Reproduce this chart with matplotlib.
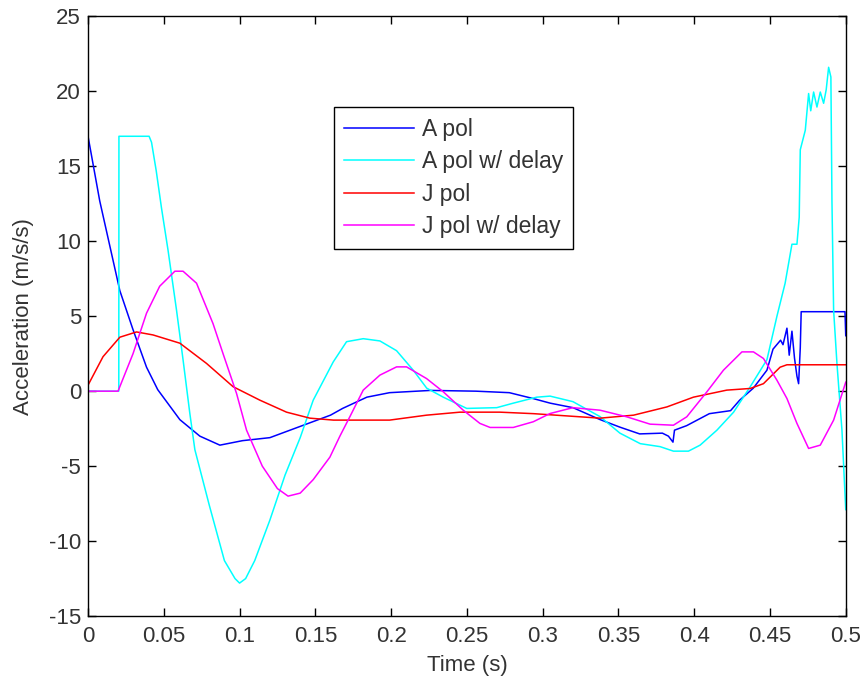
import matplotlib
matplotlib.use('Agg')
import matplotlib.pyplot as plt

# A pol
t_apol = [0, 0.0077, 0.021, 0.0297, 0.0386, 0.046, 0.0606, 0.0738, 0.087, 0.102, 0.12, 0.144, 0.16, 0.168,
          0.184, 0.199, 0.226, 0.256, 0.278, 0.294, 0.305, 0.32, 0.338, 0.351, 0.364, 0.379, 0.383, 0.386,
          0.387, 0.395, 0.41, 0.424, 0.43, 0.439, 0.448, 0.452, 0.457, 0.4586, 0.4612, 0.4627, 0.4645,
          0.4662, 0.4678, 0.4689, 0.47, 0.4706, 0.4995, 0.5]
v_apol = [17.0, 12.7, 6.7, 4.1, 1.6, 0.1, -1.9, -3.0, -3.6, -3.3, -3.1, -2.2, -1.6, -1.15,
          -0.4, -0.1, 0.05, 0.0, -0.1, -0.5, -0.8, -1.1, -1.9, -2.4, -2.85, -2.8, -3.0, -3.4,
          -2.6, -2.3, -1.5, -1.3, -0.6, 0.2, 1.4, 2.8, 3.4, 3.1, 4.2, 2.4, 4.0,
          2.2, 1.0, 0.5, 2.9, 5.3, 5.3, 3.7]

# A pol w/ delay
t_apol_d = [0, 0.0203, 0.0204, 0.0403, 0.0419, 0.045, 0.0485, 0.0528, 0.0584, 0.0627, 0.0672, 0.0705,
            0.08, 0.09, 0.097, 0.1, 0.104, 0.11, 0.12, 0.13, 0.14, 0.1486, 0.1618, 0.1706, 0.1816,
            0.1926, 0.2036, 0.2146, 0.2235, 0.2344, 0.2499, 0.2697, 0.2806, 0.2961, 0.3049, 0.32,
            0.3379, 0.351, 0.3644, 0.3775, 0.3863, 0.3962, 0.4039, 0.415, 0.426, 0.437, 0.448,
            0.4546, 0.46, 0.4645, 0.4678, 0.4693, 0.47, 0.4733, 0.4755, 0.4769, 0.4788, 0.481,
            0.4832, 0.4854, 0.4871, 0.4887, 0.4902, 0.4909, 0.492, 0.4942, 0.4975, 0.5]
v_apol_d = [0, 0, 17.0, 17.0, 16.6, 14.7, 12.2, 9.4, 5.4, 2.1, -1.5, -3.9,
            -7.6, -11.3, -12.5, -12.8, -12.5, -11.3, -8.6, -5.6, -3.1, -0.6, 1.95, 3.3, 3.5,
            3.35, 2.7, 1.4, 0.2, -0.4, -1.15, -1.1, -0.8, -0.4, -0.33, -0.7,
            -1.7, -2.8, -3.5, -3.7, -4.0, -4.0, -3.6, -2.6, -1.4, 0.3, 2.1,
            5.0, 7.2, 9.8, 9.8, 11.6, 16.1, 17.4, 19.85, 18.7, 19.95, 18.95,
            19.95, 19.2, 20.1, 21.6, 20.95, 12.7, 5.4, 1.85, -2.6, -7.9]

# J pol
t_jpol = [0, 0.0099, 0.021, 0.032, 0.0429, 0.0606, 0.0782, 0.0957, 0.1134, 0.131, 0.1464, 0.162, 0.199,
          0.2234, 0.2454, 0.2718, 0.294, 0.3379, 0.36, 0.382, 0.3995, 0.4215, 0.437, 0.4457, 0.4567,
          0.4612, 0.5]
v_jpol = [0.4, 2.3, 3.6, 3.95, 3.75, 3.2, 1.85, 0.3, -0.6, -1.4, -1.8, -1.93, -1.93,
          -1.6, -1.4, -1.4, -1.5, -1.8, -1.6, -1.05, -0.4, 0.07, 0.18, 0.5, 1.6,
          1.76, 1.76]

# J pol w/ delay
t_jpol_d = [0, 0.0198, 0.0297, 0.0386, 0.0473, 0.0573, 0.0627, 0.0716, 0.0825, 0.0891, 0.098, 0.1046,
            0.115, 0.125, 0.132, 0.14, 0.1486, 0.1596, 0.1662, 0.1728, 0.1816, 0.1926, 0.2036, 0.2102,
            0.2234, 0.2344, 0.2476, 0.2586, 0.2653, 0.2806, 0.2938, 0.3049, 0.32, 0.3379, 0.3555,
            0.3709, 0.3863, 0.3951, 0.4084, 0.4193, 0.4315, 0.4391, 0.4457, 0.4546, 0.4612, 0.4678,
            0.4755, 0.4832, 0.492, 0.5]
v_jpol_d = [0, 0, 2.5, 5.2, 7.0, 8.0, 8.0, 7.2, 4.5, 2.5, -0.15, -2.6,
            -5.0, -6.5, -7.0, -6.8, -5.9, -4.4, -3.0, -1.7, 0.07, 1.07, 1.62, 1.62,
            0.84, -0.04, -1.27, -2.15, -2.42, -2.42, -2.04, -1.49, -1.1, -1.27, -1.71,
            -2.2, -2.27, -1.71, -0.04, 1.4, 2.62, 2.62, 2.18, 0.73, -0.49, -2.15,
            -3.82, -3.6, -1.93, 0.6]

series_labels = ['A pol', 'A pol w/ delay', 'J pol', 'J pol w/ delay']
x_ticks = [0, 0.05, 0.1, 0.15, 0.2, 0.25, 0.3, 0.35, 0.4, 0.45, 0.5]
x_ticklabels = ['0', '0.05', '0.1', '0.15', '0.2', '0.25', '0.3', '0.35', '0.4', '0.45', '0.5']
y_ticks = [-15, -10, -5, 0, 5, 10, 15, 20, 25]

plt.rcParams['font.family'] = ['Liberation Sans', 'DejaVu Sans']
plt.rcParams['axes.unicode_minus'] = False

fs = 16
txt_color = '#333333'

fig = plt.figure(figsize=(8.63, 6.80), dpi=100)
ax = fig.add_axes([0.102, 0.094, 0.878, 0.882])

ax.plot(t_apol, v_apol, color='#0000ff', lw=1.1, label=series_labels[0])
ax.plot(t_apol_d, v_apol_d, color='#00ffff', lw=1.1, label=series_labels[1])
ax.plot(t_jpol, v_jpol, color='#ff0000', lw=1.1, label=series_labels[2])
ax.plot(t_jpol_d, v_jpol_d, color='#ff00ff', lw=1.1, label=series_labels[3])

ax.set_xlim(0, 0.5)
ax.set_ylim(-15, 25)
ax.set_xticks(x_ticks)
ax.set_xticklabels(x_ticklabels)
ax.set_yticks(y_ticks)
ax.tick_params(direction='in', length=5.5, width=1, top=True, right=True, labelsize=fs,
               labelcolor=txt_color, color='black')
ax.tick_params(axis='x', pad=7)
ax.tick_params(axis='y', pad=5)
for s in ax.spines.values():
    s.set_linewidth(1)
    s.set_color('black')

ax.set_xlabel('Time (s)', fontsize=fs, color=txt_color, labelpad=6)
ax.set_ylabel('Acceleration (m/s/s)', fontsize=fs, color=txt_color, labelpad=11)

leg = ax.legend(loc='upper left', bbox_to_anchor=(0.324, 0.848), prop={'size': 16.5}, fancybox=False,
                edgecolor='black', framealpha=1, handlelength=3.05, handletextpad=0.36,
                labelspacing=0.42, borderpad=0.44, borderaxespad=0)
leg.get_frame().set_linewidth(1)
for txt in leg.get_texts():
    txt.set_color(txt_color)

fig.savefig('out.png', dpi=100, facecolor='white')
